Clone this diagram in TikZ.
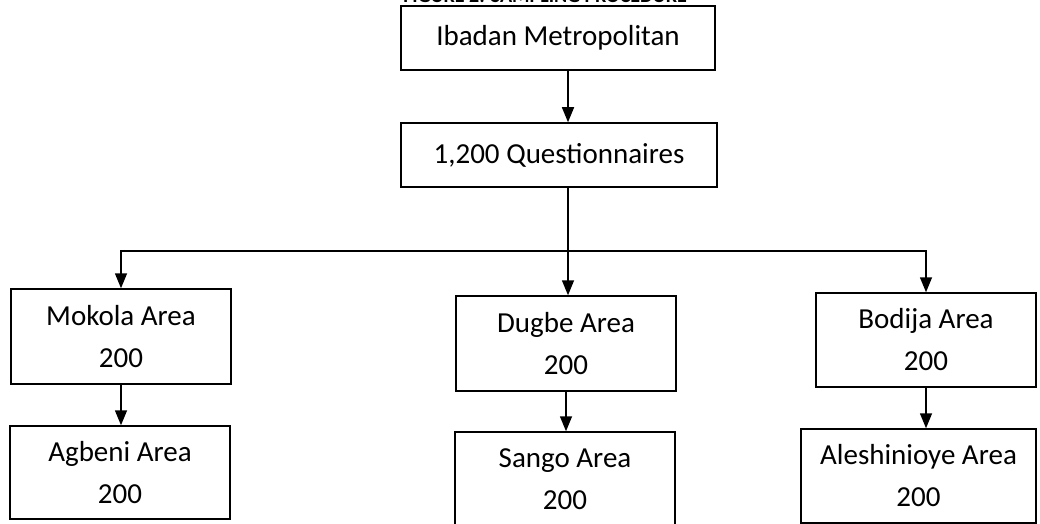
\documentclass[tikz,border=0pt]{standalone}
\usepackage{fontspec}
\setmainfont{Carlito}
\usetikzlibrary{arrows.meta}
\tikzset{box/.style={
    draw,
    line width=1.5pt,
    align=center,
    inner sep=0pt,
    font=\fontsize{29}{42}\selectfont},
  arr/.style={
    line width=1.5pt,
    -{Triangle[width=12pt,length=15pt]}}}

\begin{document}
\begin{tikzpicture}[x=1pt,y=-1pt]
\useasboundingbox[fill=white] (0,0) rectangle (1040,524);

% title (cut off by the page)
\node[anchor=base,font=\fontsize{20}{24}\selectfont\bfseries] (title) at (545,3) {FIGURE 2: SAMPLING PROCEDURE};

\node[box,
  minimum width=314pt,
  minimum height=64pt] (ibadan) at (558,38) {Ibadan Metropolitan};

\node[box,
  minimum width=316pt,
  minimum height=64pt] (quest) at (559,155) {1,200 Questionnaires};

\coordinate (split) at (568,251);

\node[box,
  minimum width=220pt,
  minimum height=95pt] (mokola) at (121,336.5) {Mokola Area\\200};

\node[box,
  minimum width=220pt,
  minimum height=93pt] (agbeni) at (120,472.5) {Agbeni Area\\200};

\node[box,
  minimum width=220pt,
  minimum height=95pt] (dugbe) at (566,343.5) {Dugbe Area\\200};

\node[box,
  minimum width=220pt,
  minimum height=95pt] (sango) at (565,479.5) {Sango Area\\200};

\node[box,
  minimum width=220pt,
  minimum height=94pt] (bodija) at (926,340) {Bodija Area\\200};

\node[box,
  minimum width=235pt,
  minimum height=94pt] (aleshi) at (918.5,476) {Aleshinioye Area\\200};

% connectors
\draw[arr] (ibadan.south -| split) -- (quest.north -| split);
\draw[line width=1.5pt] (quest.south -| split) -- (split);
\draw[arr] (split) -| (mokola.north);
\draw[arr] (split) -| (bodija.north);
\draw[arr] (split) -- (dugbe.north -| split);
\draw[arr] (mokola.south) -- (agbeni.north -| mokola);
\draw[arr] (dugbe.south) -- (sango.north -| dugbe);
\draw[arr] (bodija.south) -- (aleshi.north -| bodija);

\end{tikzpicture}
\end{document}
